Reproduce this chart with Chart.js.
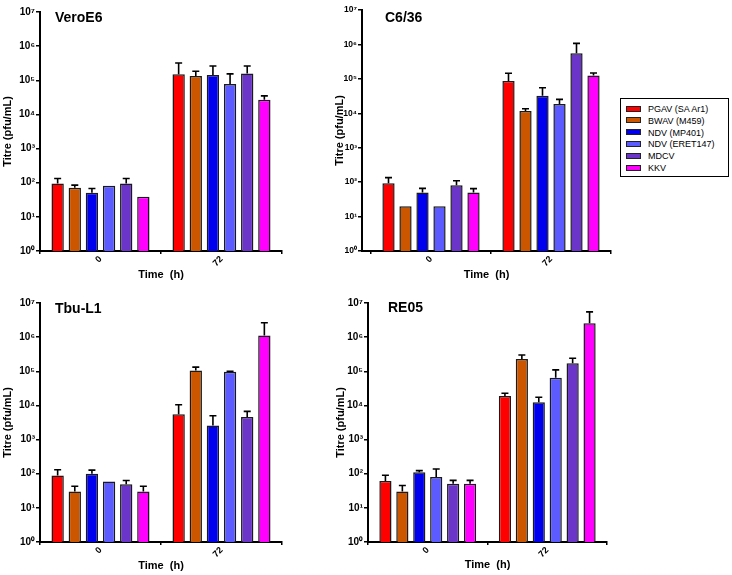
<!DOCTYPE html>
<html lang="en">
<head>
<meta charset="UTF-8">
<title>Virus titres by cell line</title>
<script src="https://cdn.jsdelivr.net/npm/chart.js"></script>
<style>
    body { margin: 0; background: #fff; font-family: "Liberation Sans", Arial, sans-serif; }
    #wrap { position: relative; width: 732px; height: 575px; overflow: hidden; }
    .panel { position: absolute; }
    .ptitle { position: absolute; font-weight: bold; font-size: 14px; line-height: 16px; color: #000; }
    #legend {
        position: absolute; left: 620px; top: 98px; width: 107px; height: 77px;
        border: 1.5px solid #000; background: #fff;
    }
    .item { position: absolute; left: 5px; height: 12px; font-size: 9px; line-height: 12px; white-space: nowrap; }
    .swatch { display: inline-block; width: 13px; height: 4px; border: 1px solid #222; vertical-align: middle; margin-right: 7px; position: relative; top: -1px; }
</style>
</head>
<body>
<div id="wrap">
    <canvas id="c1" class="panel" style="left:0px;top:0px"></canvas>
    <canvas id="c2" class="panel" style="left:300px;top:0px"></canvas>
    <canvas id="c3" class="panel" style="left:0px;top:290px"></canvas>
    <canvas id="c4" class="panel" style="left:300px;top:290px"></canvas>
    <div class="ptitle" style="left:55px;top:9px">VeroE6</div>
    <div class="ptitle" style="left:385px;top:9px">C6/36</div>
    <div class="ptitle" style="left:55px;top:300px">Tbu-L1</div>
    <div class="ptitle" style="left:388px;top:299px">RE05</div>
    <div id="legend"></div>
</div>

<script>
    // categories
    const timeLabels = ['0', '72'];
    const virusNames = ['PGAV (SA Ar1)', 'BWAV (M459)', 'NDV (MP401)', 'NDV (ERET147)', 'MDCV', 'KKV'];
    const virusColors = ['#ff0000', '#cc5500', '#0000ee', '#5b5bff', '#6a35c8', '#ff00ff'];
    const yTicks = [1, 10, 100, 1000, 10000, 100000, 1000000, 10000000];

    // mean titre per virus [0 h, 72 h]
    const veroMean = [[95, 150000], [71, 134000], [51, 144000], [81, 78000], [95, 158000], [39, 27000]];
    const c636Mean = [[93, 87000], [20, 11700], [50, 32500], [20, 18600], [81, 550000], [50, 126000]];
    const tbuMean  = [[89, 5500], [30, 106000], [99, 2600], [59, 97000], [49, 4600], [30, 1110000]];
    const re05Mean = [[61, 19000], [30, 230000], [110, 12400], [80, 65000], [51, 171000], [51, 2550000]];

    // top of error bar (mean + SD), null where no bar is visible
    const veroUpper = [[133, 322000], [85, 183000], [68, 263000], [null, 154000], [133, 263000], [null, 35000]];
    const c636Upper = [[135, 145000], [null, 13600], [66, 55000], [null, 25300], [110, 1070000], [65, 148000]];
    const tbuUpper  = [[130, 10500], [43, 132000], [127, 5000], [null, 100000], [63, 6700], [43, 2630000]];
    const re05Upper = [[90, 22700], [45, 300000], [123, 17300], [138, 110000], [64, 240000], [64, 5500000]];

    const sup = ['⁰', '¹', '²', '³', '⁴', '⁵', '⁶', '⁷'];

    // legend
    const legendEl = document.getElementById('legend');
    virusNames.forEach((name, i) => {
        const row = document.createElement('div');
        row.className = 'item';
        row.style.top = (4 + i * 11.8) + 'px';
        row.innerHTML = '<span class="swatch" style="background:' + virusColors[i] + '"></span>' + name;
        legendEl.appendChild(row);
    });

    function makePanel(id, mean, upper, p) {
        const canvas = document.getElementById(id);
        canvas.width = p.w;
        canvas.height = p.h;
        canvas.style.width = p.w + 'px';
        canvas.style.height = p.h + 'px';

        const errorBars = {
            id: 'errorBars' + id,
            afterLayout(chart) {
                // move the y axis line left of the plotted area (gap as in the original)
                if (!p.shift) return;
                chart.scales.y.left -= p.shift;
                chart.scales.y.right -= p.shift;
                chart.scales.x.left -= p.shift;
            },
            afterDatasetsDraw(chart) {
                const ctx = chart.ctx;
                const y = chart.scales.y;
                ctx.save();
                ctx.strokeStyle = '#000';
                ctx.lineWidth = 1.6;
                chart.data.datasets.forEach((ds, i) => {
                    chart.getDatasetMeta(i).data.forEach((bar, j) => {
                        const u = upper[i][j];
                        if (u == null) return;
                        const yt = y.getPixelForValue(u);
                        ctx.beginPath();
                        ctx.moveTo(bar.x, bar.y);
                        ctx.lineTo(bar.x, yt);
                        ctx.moveTo(bar.x - 3.5, yt);
                        ctx.lineTo(bar.x + 3.5, yt);
                        ctx.stroke();
                    });
                });
                ctx.restore();
            }
        };

        return new Chart(canvas, {
            type: 'bar',
            data: {
                labels: timeLabels,
                datasets: virusNames.map((name, i) => ({
                    label: name,
                    data: mean[i],
                    backgroundColor: virusColors[i],
                    borderColor: '#1a1a1a',
                    borderWidth: 1.5,
                    borderSkipped: 'start',
                    barPercentage: 0.72,
                    categoryPercentage: 0.85
                }))
            },
            options: {
                responsive: false,
                animation: false,
                layout: { padding: { top: p.top, right: p.right, left: 0, bottom: 0 } },
                plugins: { legend: { display: false }, tooltip: { enabled: false } },
                scales: {
                    x: {
                        type: 'category',
                        offset: true,
                        afterFit: s => { s.height = p.xh; },
                        grid: { display: true, drawOnChartArea: false, drawTicks: true, tickLength: 3, color: '#000', lineWidth: 1.5 },
                        border: { display: true, color: '#000', width: 2 },
                        ticks: { color: '#000', font: { size: 9, weight: 'bold' }, maxRotation: 45, minRotation: 45, padding: 0 },
                        title: { display: true, text: 'Time  (h)', color: '#000', font: { size: 11, weight: 'bold' }, padding: { top: 0, bottom: p.xtp } }
                    },
                    y: {
                        type: 'logarithmic',
                        min: 1,
                        max: 10000000,
                        afterFit: s => { s.width = p.yw; },
                        afterBuildTicks: s => { s.ticks = yTicks.map(v => ({ value: v, major: true })); },
                        grid: { display: true, drawOnChartArea: false, drawTicks: true, tickLength: 4, color: '#000', lineWidth: 1.5 },
                        border: { display: true, color: '#000', width: 2 },
                        ticks: {
                            color: '#000',
                            font: { size: p.tf, weight: 'bold' },
                            padding: 1,
                            autoSkip: false,
                            callback: v => '10' + sup[Math.round(Math.log10(v))]
                        },
                        title: { display: true, text: 'Titre (pfu/mL)', color: '#000', font: { size: 11, weight: 'bold' }, padding: { top: p.ytp, bottom: 0 } }
                    }
                }
            },
            plugins: [errorBars]
        });
    }

    makePanel('c1', veroMean, veroUpper, { w: 300, h: 290, top: 12, right: 18, yw: 40, xh: 39, shift: 0, ytp: 1.5, xtp: 8, tf: 10 });
    makePanel('c2', c636Mean, c636Upper, { w: 320, h: 290, top: 10, right: 9, yw: 71, xh: 39, shift: 9, ytp: 42.5, xtp: 8, tf: 8.5 });
    makePanel('c3', tbuMean, tbuUpper, { w: 300, h: 285, top: 13, right: 18, yw: 40, xh: 33, shift: 0, ytp: 1.5, xtp: 2.5, tf: 10 });
    makePanel('c4', re05Mean, re05Upper, { w: 320, h: 285, top: 13, right: 13, yw: 68, xh: 33, shift: 0, ytp: 34.5, xtp: 3.5, tf: 10 });
</script>
</body>
</html>
